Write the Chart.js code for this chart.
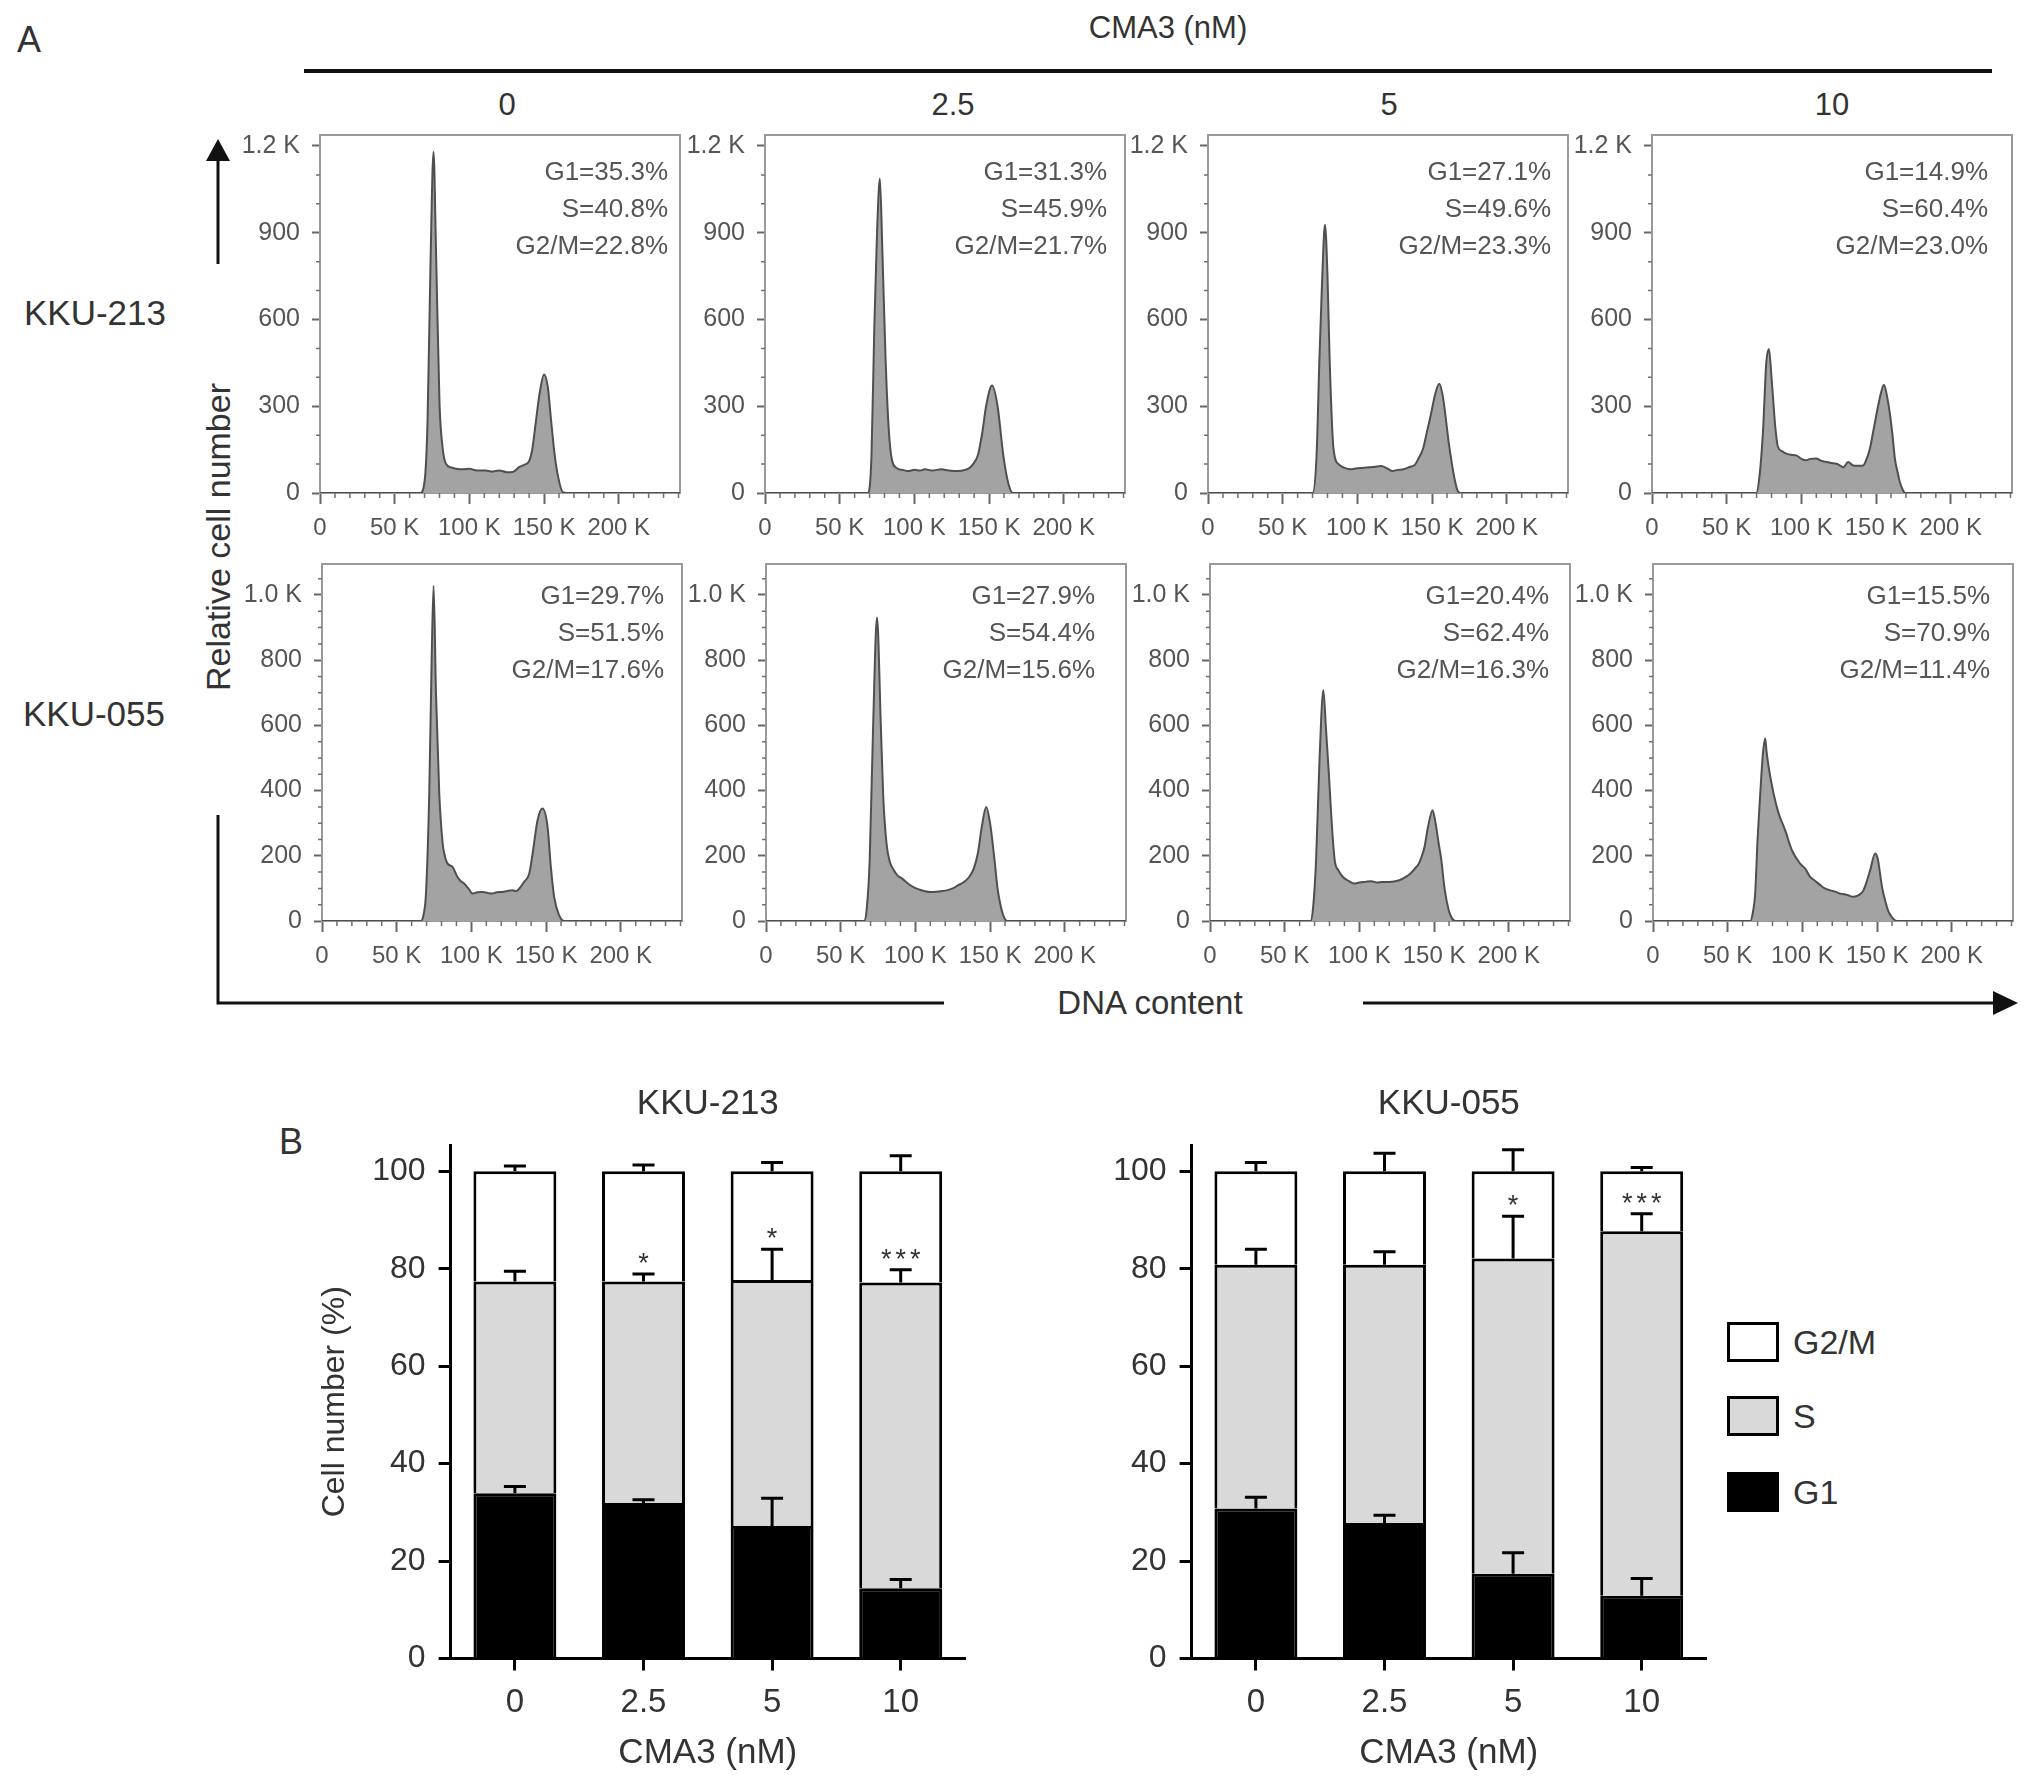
<!DOCTYPE html>
<html>
<head>
<meta charset="utf-8">
<script src="https://cdn.jsdelivr.net/npm/chart.js@4.4.0/dist/chart.umd.min.js"></script>
<style>
  html, body { margin: 0; padding: 0; background: #fff; }
  #fig { position: relative; width: 2032px; height: 1783px; overflow: hidden;
         font-family: "Liberation Sans", Arial, sans-serif; color: #333; }
  #fig canvas { position: absolute; }
  #fig svg { position: absolute; left: 0; top: 0; }
  .t { position: absolute; white-space: nowrap; line-height: 1; transform: translate(-50%, -50%); }
  .l { position: absolute; white-space: nowrap; line-height: 1; transform: translate(0, -50%); }
  .box { position: absolute; width: 46px; height: 34px; border: 3px solid #000; }
</style>
</head>
<body>
<div id="fig">
  <svg width="2032" height="1783">
    <line x1="304" y1="71" x2="1992" y2="71" stroke="#111" stroke-width="4"/>
    <line x1="218" y1="264" x2="218" y2="158" stroke="#111" stroke-width="3"/>
    <polygon points="218,139 206,161 230,161" fill="#111"/>
    <polyline points="218,815 218,1003 944,1003" fill="none" stroke="#111" stroke-width="3"/>
    <line x1="1363" y1="1003" x2="1996" y2="1003" stroke="#111" stroke-width="3"/>
    <polygon points="2018,1003 1993,991 1993,1015" fill="#111"/>
  </svg>

  <div class="t" style="left:29px;top:40px;font-size:36px;">A</div>
  <div class="t" style="left:1168px;top:27px;font-size:31px;">CMA3 (nM)</div>
  <div class="t" style="left:507px;top:104px;font-size:31px;">0</div>
  <div class="t" style="left:953px;top:104px;font-size:31px;">2.5</div>
  <div class="t" style="left:1389px;top:104px;font-size:31px;">5</div>
  <div class="t" style="left:1832px;top:104px;font-size:31px;">10</div>
  <div class="l" style="left:24px;top:312px;font-size:35px;">KKU-213</div>
  <div class="l" style="left:23px;top:713px;font-size:35px;">KKU-055</div>
  <div class="t" style="left:218px;top:537px;font-size:34px;transform:translate(-50%,-50%) rotate(-90deg);">Relative cell number</div>
  <div class="t" style="left:1150px;top:1002px;font-size:33px;">DNA content</div>
  <div class="t" style="left:291px;top:1142px;font-size:36px;">B</div>

  <div class="box" style="left:1727px;top:1322px;background:#fff;"></div>
  <div class="box" style="left:1727px;top:1396px;background:#d9d9d9;"></div>
  <div class="box" style="left:1727px;top:1472px;background:#000;"></div>
  <div class="l" style="left:1793px;top:1342px;font-size:34px;">G2/M</div>
  <div class="l" style="left:1793px;top:1416px;font-size:34px;">S</div>
  <div class="l" style="left:1793px;top:1492px;font-size:34px;">G1</div>
</div>

<script>
// histogram outlines: [DNA content (K), cell count]
const h213_0 = [[0,0],[67,0],[70,40],[72,250],[74,800],[76,1180],[77.7,830],[80,310],[82,160],[84.4,100],[88,88],[91,84],[96,82],[100,84],[105,78],[111,78],[115,74],[120,78],[125,72],[129,73],[133.5,90],[137,98],[140,110],[142,148],[144.6,250],[147,344],[150,410],[152.5,367],[154.7,251],[157,136],[159,67],[162.5,3],[165,0],[241,0]];
const h213_25 = [[0,0],[69,0],[71.3,132],[73.2,579],[75,900],[76.9,1088],[78.5,850],[80.7,467],[82.5,250],[84.4,132],[88,87],[92,80],[95.7,76],[100,80],[104,78],[107,82],[112,78],[118,82],[123,78],[129,76],[134,80],[137,87],[140,105],[142.6,132],[145.5,210],[148,300],[152,372],[155.7,300],[159.5,132],[163,31],[166,0],[241,0]];
const h213_5 = [[0,0],[70,0],[72.7,132],[74.6,467],[76.5,750],[78.3,928],[80,750],[81.4,467],[84,154],[87.8,98],[91,88],[95.3,82],[100,86],[104.7,87],[110,90],[116,93],[120,85],[123.5,76],[127,80],[131,82],[135,90],[138.6,98],[141,120],[144,154],[146.5,210],[149,266],[152,340],[154.8,378],[157,340],[159,266],[161,180],[163,110],[165,50],[167,9],[169,0],[241,0]];
const h213_10 = [[0,0],[69.8,0],[72,60],[74.3,213],[76.5,450],[78.3,498],[80,400],[81,332],[82.5,230],[84.3,160],[87,145],[90,136],[93,132],[96.6,130],[100,118],[103,113],[106,118],[110,119],[113,112],[116.8,107],[120,104],[123.5,101],[126,95],[128,89],[131.3,107],[134.7,95],[138,94],[141.4,95],[143.5,115],[145.9,154],[148,210],[150.3,273],[153,340],[155.3,374],[157.5,330],[159.3,273],[161,200],[162.6,119],[164.5,70],[166,36],[168,10],[169.4,0],[241,0]];
const h055_0 = [[0,0],[66.2,0],[68,20],[69.6,84],[71.8,391],[73.4,800],[74.7,1028],[76.3,698],[78.5,391],[80.8,237],[82.5,195],[84.1,176],[87.4,166],[90.7,135],[93,122],[95.2,115],[98,100],[100.8,84],[104,88],[107.5,89],[111,86],[114,84],[117,88],[120.8,89],[124,92],[127.5,94],[130,92],[132,99],[135.3,120],[138.7,145],[141,207],[144.3,309],[147.6,345],[151,289],[153.2,166],[155.4,74],[158.8,17],[162,0],[241,0]];
const h055_25 = [[0,0],[65.7,0],[67.5,40],[69.4,186],[71.7,596],[74.3,931],[76.9,596],[78.5,380],[80.7,237],[83,180],[85.6,156],[88,140],[91.2,130],[95,115],[98.7,104],[103,96],[106,92],[110,89],[114,90],[118,92],[121,94],[125,100],[128.7,110],[132,118],[136,135],[139,160],[141.8,207],[144.5,290],[147.4,350],[150,300],[153,186],[155,100],[156.8,53],[159,15],[161.7,0],[241,0]];
const h055_5 = [[0,0],[67.3,0],[69,40],[71,186],[73.3,493],[75.9,708],[77.5,600],[79.7,442],[81.5,300],[83.5,186],[86,155],[89,135],[92,125],[96.6,115],[100,118],[104,120],[108,122],[112,118],[115,120],[120,120],[126.7,125],[130,132],[134,145],[137,160],[139.8,176],[141.5,195],[143.6,227],[146,290],[149,340],[151,300],[153,240],[154.9,186],[157,100],[159.8,33],[162,8],[164.3,0],[241,0]];
const h055_10 = [[0,0],[65.1,0],[67,30],[68.4,84],[70,250],[71.8,391],[73.6,514],[75.1,560],[76,520],[77.4,473],[80.7,391],[84.1,330],[88.5,278],[93,217],[98.5,176],[102,160],[105.2,135],[108,125],[112,110],[115,100],[118.7,94],[122,90],[125.3,84],[130,80],[134.2,74],[138,80],[140.9,94],[143,120],[145.4,156],[148.7,207],[150.5,190],[152,145],[153.5,100],[155.4,63],[157.5,30],[159.9,12],[163.2,0],[241,0]];

// histogram axis ticks and their labels
const dnaTicks = [0, 50, 100, 150, 200];
const dnaLabels = ['0', '50 K', '100 K', '150 K', '200 K'];
const countTicks213 = [0, 300, 600, 900, 1200];
const countLabels213 = ['0', '300', '600', '900', '1.2 K'];
const countTicks055 = [0, 200, 400, 600, 800, 1000];
const countLabels055 = ['0', '200', '400', '600', '800', '1.0 K'];

// gated percentages printed in each histogram
const g1Pct213 = [35.3, 31.3, 27.1, 14.9];
const sPct213 = [40.8, 45.9, 49.6, 60.4];
const g2mPct213 = [22.8, 21.7, 23.3, 23.0];
const g1Pct055 = [29.7, 27.9, 20.4, 15.5];
const sPct055 = [51.5, 54.4, 62.4, 70.9];
const g2mPct055 = [17.6, 15.6, 16.3, 11.4];

// panel B: stacked means (%) and upper error bars
const doses = ['0', '2.5', '5', '10'];
const pctTicks = [0, 20, 40, 60, 80, 100];
const g1_213 = [33.9, 31.9, 27.2, 14.4];
const s_213 = [43.5, 45.5, 50.5, 62.8];
const g2m_213 = [22.6, 22.6, 22.3, 22.8];
const g1Err_213 = [1.4, 0.7, 5.7, 1.8];
const sErr_213 = [2.1, 1.5, 6.3, 2.6];
const g2mErr_213 = [1.1, 1.3, 1.8, 3.2];
const sig_213 = ['', '*', '*', '***'];

const g1_055 = [30.8, 27.8, 17.4, 12.9];
const s_055 = [50.0, 53.0, 64.7, 74.8];
const g2m_055 = [19.2, 19.2, 17.9, 12.3];
const g1Err_055 = [2.3, 1.6, 4.3, 3.5];
const sErr_055 = [3.2, 2.7, 8.7, 3.6];
const g2mErr_055 = [1.8, 3.7, 4.4, 0.8];
const sig_055 = ['', '', '*', '***'];

const FONT = '"Liberation Sans", Arial, sans-serif';
Chart.defaults.font.family = FONT;
Chart.defaults.font.weight = 'normal';

const fig = document.getElementById('fig');

function addCanvas(left, top, w, h) {
  const c = document.createElement('canvas');
  c.width = w; c.height = h;
  c.style.left = left + 'px'; c.style.top = top + 'px';
  fig.appendChild(c);
  return c;
}

const fixedTicks = values => scale => { scale.ticks = values.map(v => ({ value: v })); };

// grey box around the plot area plus minor ticks
const histFrame = {
  id: 'histFrame',
  beforeDatasetsDraw(chart) {
    const { ctx, chartArea: a } = chart;
    ctx.save();
    ctx.strokeStyle = '#9a9a9a';
    ctx.lineWidth = 2;
    ctx.strokeRect(a.left, a.top, a.right - a.left, a.bottom - a.top);
    ctx.restore();
  },
  afterDraw(chart, args, opts) {
    const { ctx, chartArea: a, scales: { x, y } } = chart;
    ctx.save();
    ctx.strokeStyle = '#707070';
    ctx.lineWidth = 1.5;
    ctx.beginPath();
    for (let v = 10; v <= x.max; v += 10) {
      if (v % 50 === 0) continue;
      const px = x.getPixelForValue(v);
      ctx.moveTo(px, a.bottom); ctx.lineTo(px, a.bottom + 5);
    }
    for (let v = opts.yMinor; v <= y.max; v += opts.yMinor) {
      if (v % opts.yStep === 0) continue;
      const py = y.getPixelForValue(v);
      ctx.moveTo(a.left, py); ctx.lineTo(a.left - 4, py);
    }
    ctx.stroke();
    ctx.restore();
  }
};

const pctText = {
  id: 'pctText',
  afterDraw(chart, args, opts) {
    const { ctx, chartArea: a } = chart;
    ctx.save();
    ctx.font = '26px ' + FONT;
    ctx.fillStyle = '#555';
    ctx.textAlign = 'right';
    ctx.textBaseline = 'middle';
    opts.lines.forEach((t, i) => ctx.fillText(t, a.right - opts.right, a.top + opts.top + i * 37));
    ctx.restore();
  }
};

const HIST_PAD_TOP = 32;

function histChart(canvas, points, yMax, yTicks, yLabels, yMinor, lines, textTop, textRight) {
  const yStep = yTicks[1] - yTicks[0];
  return new Chart(canvas, {
    type: 'line',
    data: {
      datasets: [{
        data: points.map(p => ({ x: p[0], y: p[1] })),
        borderColor: '#4f4f4f',
        borderWidth: 2,
        backgroundColor: '#a3a3a3',
        fill: 'origin',
        pointRadius: 0,
        cubicInterpolationMode: 'monotone'
      }]
    },
    options: {
      responsive: false,
      animation: false,
      layout: { padding: { top: HIST_PAD_TOP, right: 4, left: 0, bottom: 0 } },
      plugins: {
        legend: { display: false },
        tooltip: { enabled: false },
        histFrame: { yStep: yStep, yMinor: yMinor },
        pctText: { lines: lines, top: textTop, right: textRight }
      },
      scales: {
        x: {
          type: 'linear', min: 0, max: 241,
          afterBuildTicks: fixedTicks(dnaTicks),
          afterFit: s => { s.height = 50; },
          ticks: {
            autoSkip: false, maxRotation: 0,
            padding: 10, color: '#555', font: { size: 24 },
            callback: (v, i) => dnaLabels[i]
          },
          grid: { drawOnChartArea: false, tickLength: 11, tickWidth: 2, tickColor: '#666' },
          border: { color: '#666', width: 2 }
        },
        y: {
          min: 0, max: yMax,
          afterBuildTicks: fixedTicks(yTicks),
          afterFit: s => { s.width = 95; },
          ticks: {
            autoSkip: false, padding: 12, color: '#555', font: { size: 25 },
            callback: (v, i) => yLabels[i]
          },
          grid: { drawOnChartArea: false, tickLength: 8, tickWidth: 2, tickColor: '#666' },
          border: { color: '#666', width: 2 }
        }
      }
    },
    plugins: [histFrame, pctText]
  });
}

const rows = [
  { hists: [h213_0, h213_25, h213_5, h213_10], g1: g1Pct213, s: sPct213, g2m: g2mPct213,
    ticks: countTicks213, labels: countLabels213,
    lefts: [320, 765, 1208, 1652], top: 135, height: 358, yMax: 1238, yMinor: 100,
    textTop: 38, textRight: [12, 18, 17, 24] },
  { hists: [h055_0, h055_25, h055_5, h055_10], g1: g1Pct055, s: sPct055, g2m: g2mPct055,
    ticks: countTicks055, labels: countLabels055,
    lefts: [322, 766, 1210, 1653], top: 564, height: 357, yMax: 1095, yMinor: 50,
    textTop: 33, textRight: [18, 31, 21, 23] }
];

rows.forEach(r => {
  r.hists.forEach((pts, i) => {
    const cv = addCanvas(r.lefts[i] - 95, r.top - HIST_PAD_TOP, 95 + 360 + 4, HIST_PAD_TOP + r.height + 50);
    const lines = [
      'G1=' + r.g1[i].toFixed(1) + '%',
      'S=' + r.s[i].toFixed(1) + '%',
      'G2/M=' + r.g2m[i].toFixed(1) + '%'
    ];
    histChart(cv, pts, r.yMax, r.ticks, r.labels, r.yMinor, lines, r.textTop, r.textRight[i]);
  });
});

// error bars, significance stars and centred title for panel B
const barExtras = {
  id: 'barExtras',
  afterDatasetsDraw(chart, args, opts) {
    const { ctx, chartArea: a, scales: { y } } = chart;
    const sets = chart.data.datasets;
    ctx.save();
    ctx.strokeStyle = '#000';
    ctx.lineWidth = 3;
    ctx.beginPath();
    sets.forEach((ds, di) => {
      chart.getDatasetMeta(di).data.forEach((bar, i) => {
        let base = 0;
        for (let k = 0; k <= di; k++) base += sets[k].data[i];
        const p0 = y.getPixelForValue(base);
        const p1 = y.getPixelForValue(base + ds.errors[i]);
        ctx.moveTo(bar.x, p0); ctx.lineTo(bar.x, p1);
        ctx.moveTo(bar.x - 11, p1); ctx.lineTo(bar.x + 11, p1);
      });
    });
    ctx.stroke();

    ctx.fillStyle = '#333';
    ctx.textAlign = 'center';
    ctx.textBaseline = 'alphabetic';
    ctx.font = '27px ' + FONT;
    if ('letterSpacing' in ctx) ctx.letterSpacing = '4px';
    const bars = chart.getDatasetMeta(1).data;
    opts.sig.forEach((t, i) => {
      if (!t) return;
      const top = y.getPixelForValue(sets[0].data[i] + sets[1].data[i] + sets[1].errors[i]);
      ctx.fillText(t, bars[i].x + 2, top - 2);
    });
    if ('letterSpacing' in ctx) ctx.letterSpacing = '0px';

    ctx.font = '35px ' + FONT;
    ctx.textBaseline = 'middle';
    ctx.fillText(opts.title, (a.left + a.right) / 2, a.top - 41);
    ctx.restore();
  }
};

function barChart(canvas, title, showYTitle, g1, s, g2m, g1Err, sErr, g2mErr, sig) {
  const common = { borderColor: '#000', borderWidth: 3, categoryPercentage: 1, barPercentage: 0.645 };
  return new Chart(canvas, {
    type: 'bar',
    data: {
      labels: doses,
      datasets: [
        Object.assign({ label: 'G1', data: g1, errors: g1Err, backgroundColor: '#000' }, common),
        Object.assign({ label: 'S', data: s, errors: sErr, backgroundColor: '#d9d9d9' }, common),
        Object.assign({ label: 'G2/M', data: g2m, errors: g2mErr, backgroundColor: '#fff' }, common)
      ]
    },
    options: {
      responsive: false,
      animation: false,
      layout: { padding: { top: 65, right: 20, left: 0, bottom: 0 } },
      plugins: {
        legend: { display: false },
        tooltip: { enabled: false },
        barExtras: { title: title, sig: sig }
      },
      scales: {
        x: {
          stacked: true,
          afterFit: sc => { sc.height = 115.5; },
          ticks: { color: '#333', font: { size: 33 }, padding: 13 },
          grid: { offset: false, drawOnChartArea: false, tickLength: 12, tickWidth: 3, tickColor: '#000' },
          border: { color: '#000', width: 3 },
          title: { display: true, text: 'CMA3 (nM)', color: '#333', font: { size: 35 }, padding: { top: 0, bottom: 0 } }
        },
        y: {
          stacked: true, min: 0, max: 105.4,
          afterBuildTicks: fixedTicks(pctTicks),
          afterFit: sc => { sc.width = 150.6; },
          ticks: { autoSkip: false, color: '#333', font: { size: 32 }, padding: 13 },
          grid: { drawOnChartArea: false, tickLength: 12, tickWidth: 3, tickColor: '#000' },
          border: { color: '#000', width: 3 },
          title: { display: showYTitle, text: 'Cell number (%)', color: '#333', font: { size: 32 }, padding: { top: 16, bottom: 0 } }
        }
      }
    },
    plugins: [barExtras]
  });
}

barChart(addCanvas(300, 1080, 685, 694), 'KKU-213', true,
  g1_213, s_213, g2m_213, g1Err_213, sErr_213, g2mErr_213, sig_213);
barChart(addCanvas(1041, 1080, 685, 694), 'KKU-055', false,
  g1_055, s_055, g2m_055, g1Err_055, sErr_055, g2mErr_055, sig_055);
</script>
</body>
</html>
